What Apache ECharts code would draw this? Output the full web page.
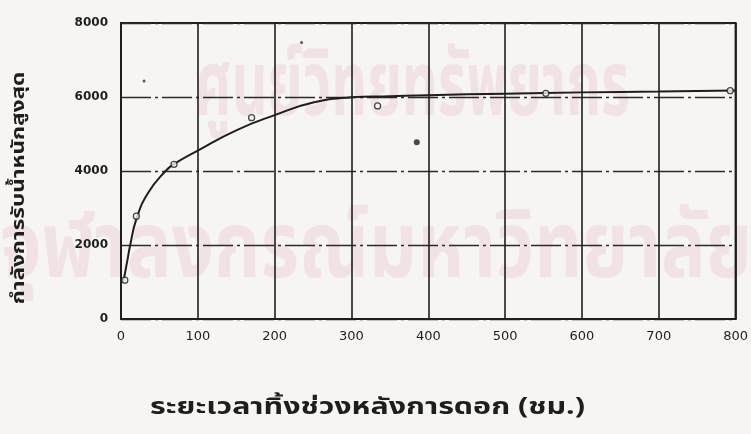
<!DOCTYPE html>
<html>
<head>
<meta charset="utf-8">
<script src="https://cdn.jsdelivr.net/npm/echarts@6/dist/echarts.min.js"></script>
<style>
html,body{margin:0;padding:0;background:#f6f5f1;}
#c{width:751px;height:434px;}
</style>
</head>
<body>
<div id="c"></div>
<script>
// Data
const xTicks = [0, 100, 200, 300, 400, 500, 600, 700, 800];
const yTicks = [0, 2000, 4000, 6000, 8000];
const openPoints = [[5, 1050], [20, 2780], [69, 4180], [170, 5440], [334, 5760], [553, 6100], [793, 6170]];
const filledPoints = [[385, 4780]];
const specks = [[30, 6430], [235, 7470]];
const fitCurve = [[3, 1000], [8, 1550], [12, 2000], [20, 2700], [35, 3400], [58, 4000], [70, 4200], [100, 4550], [150, 5100], [200, 5510], [250, 5850], [300, 5990], [350, 6020], [400, 6050], [500, 6090], [600, 6125], [700, 6150], [800, 6175]];
const xTitle = 'ระยะเวลาทิ้งช่วงหลังการดอก (ชม.)';
const yTitle = 'กำลังการรับน้ำหนักสูงสุด';
const watermark1 = 'ศูนย์วิทยทรัพยากร';
const watermark2 = 'จุฬาลงกรณ์มหาวิทยาลัย';

const ink = '#1e1e1e';
const thaiFont = '"Noto Sans Thai", "Noto Sans", "DejaVu Sans", sans-serif';
const wmFill = 'rgba(205,110,150,0.13)';
const chart = echarts.init(document.getElementById('c'), null, {renderer: 'canvas'});
chart.setOption({
  backgroundColor: '#f6f5f1',
  animation: false,
  graphic: [
    {type: 'text', x: 195, y: 52, scaleX: 0.62, z: -10, silent: true,
     style: {text: watermark1, font: 'bold 90px ' + thaiFont, fill: wmFill}},
    {type: 'text', x: 0, y: 212, scaleX: 0.81, z: -10, silent: true,
     style: {text: watermark2, font: 'bold 92px ' + thaiFont, fill: wmFill}},
    {type: 'text', x: 150, y: 398, scaleX: 1.32,
     style: {text: xTitle, font: 'bold 23px ' + thaiFont, fill: ink}},
    {type: 'text', x: 20, y: 188, rotation: Math.PI / 2, scaleX: 1.25, originX: 0, originY: 0,
     style: {text: yTitle, font: 'bold 18px ' + thaiFont, fill: ink, align: 'center', verticalAlign: 'middle'}}
  ],
  grid: {left: 121, right: 14, top: 23, bottom: 115, show: true, borderColor: ink, borderWidth: 2, backgroundColor: 'transparent'},
  xAxis: {
    type: 'value', min: 0, max: 800, interval: 100,
    axisLine: {show: true, lineStyle: {color: ink, width: 2}},
    axisTick: {show: false},
    axisLabel: {color: ink, fontSize: 13, margin: 11, fontFamily: 'DejaVu Sans',
      formatter: v => xTicks.includes(v) ? String(v) : ''},
    splitLine: {show: true, lineStyle: {color: ink, width: 1.6}}
  },
  yAxis: {
    type: 'value', min: 0, max: 8000, interval: 2000,
    axisLine: {show: true, lineStyle: {color: ink, width: 2}},
    axisTick: {show: false},
    axisLabel: {color: ink, fontSize: 12, fontWeight: 'bold', margin: 13, fontFamily: 'DejaVu Sans',
      formatter: v => yTicks.includes(v) ? String(v) : ''},
    splitLine: {show: true, lineStyle: {color: '#2a2a2a', width: 1.4, type: [30, 4, 3, 4]}}
  },
  series: [
    {type: 'line', data: fitCurve, smooth: true, showSymbol: false, lineStyle: {color: ink, width: 2}, z: 3},
    {type: 'scatter', data: openPoints, symbol: 'circle', symbolSize: 6,
     itemStyle: {color: '#f6f5f1', borderColor: ink, borderWidth: 1.3}, z: 4},
    {type: 'scatter', data: filledPoints, symbol: 'circle', symbolSize: 6, itemStyle: {color: ink}, z: 4},
    {type: 'scatter', data: specks, symbol: 'circle', symbolSize: 3, itemStyle: {color: '#333'}, z: 4}
  ]
});
</script>
</body>
</html>
